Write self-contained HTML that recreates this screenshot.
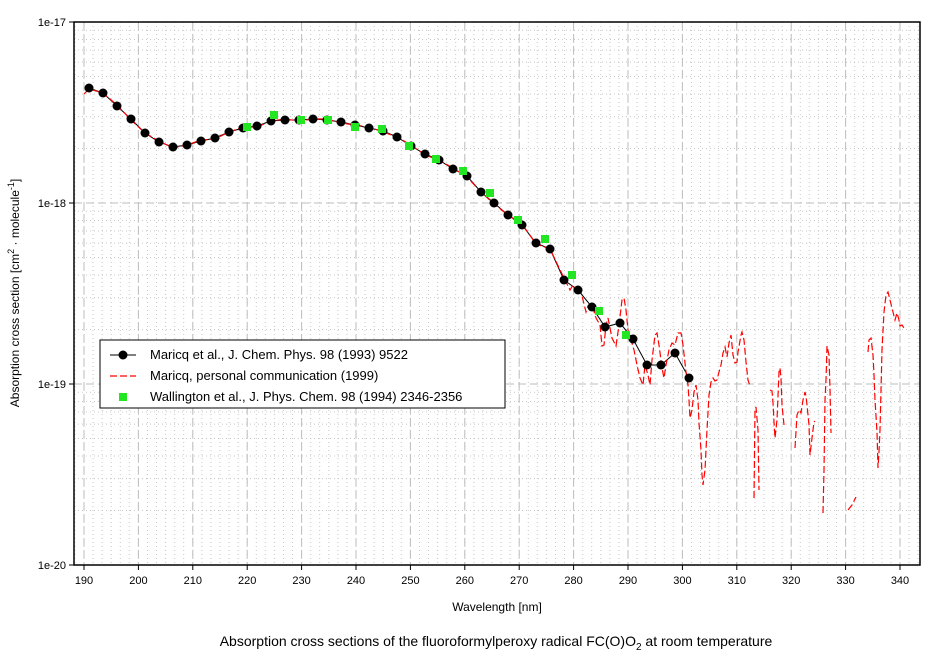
<!DOCTYPE html>
<html><head><meta charset="utf-8"><style>
body{margin:0;background:#fff;}
svg{display:block;font-family:"Liberation Sans",Arial,sans-serif;}
</style></head><body>
<svg id="s" width="944" height="660" xmlns="http://www.w3.org/2000/svg"></svg>
<script>
const S=document.getElementById('s');let h='';
const L=74,R=920,T=22,B=565;
const X=nm=>84+(nm-190)*5.44;
const Y=e=>22+(-17-e)*181;
for(let nm=188.333;nm<345;nm+=10/6){const x=X(nm);if(x<=L||x>=R)continue;h+=`<line x1="${x}" y1="${T}" x2="${x}" y2="${B}" stroke="#c8c8c8" stroke-dasharray="1,3"/>`;}
for(let d=-20;d<-17;d++)for(let m=2;m<10;m++){const y=Y(d+Math.log10(m));h+=`<line x1="${L}" y1="${y}" x2="${R}" y2="${y}" stroke="#c8c8c8" stroke-dasharray="1,3"/>`;}
for(let nm=190;nm<=340;nm+=10){const x=X(nm);h+=`<line x1="${x}" y1="${T}" x2="${x}" y2="${B}" stroke="#bdbdbd" stroke-dasharray="8,4"/><line x1="${x}" y1="${B}" x2="${x}" y2="${B+5}" stroke="#000"/><text x="${x}" y="${B+19}" font-size="11" text-anchor="middle">${nm}</text>`;}
for(let d=-20;d<=-17;d++){const y=Y(d);h+=`<line x1="${L}" y1="${y}" x2="${R}" y2="${y}" stroke="#bdbdbd" stroke-dasharray="8,4"/><line x1="${L-5}" y1="${y}" x2="${L}" y2="${y}" stroke="#000"/><text x="${L-8}" y="${y+4}" font-size="11" text-anchor="end">1e${d}</text>`;}
h+=`<rect x="${L}" y="${T}" width="${R-L}" height="${B-T}" fill="none" stroke="#000" stroke-width="1.5"/>`;
const blk=[[89,88],[103,93],[117,106],[131,119],[145,133],[159,142],[173,147],[187,145],[201,141],[215,138],[229,132],[243,128],[257,126],[271,121],[285,120],[299,120],[313,119],[327,120],[341,122],[355,125],[369,128],[383,131],[397,137],[411,146],[425,154],[439,160],[453,169],[467,176],[481,192],[494,203],[508,215],[522,225],[536,243],[550,249],[564,280],[578,290],[592,307],[605,327],[620,323],[633,339],[647,365],[661,365],[675,353],[689,378]];
const segs=[
[[84,94],...blk.slice(0,34).map(p=>[p[0],p[1]+(p[0]%3-1)]),[564,278],[570,290],[573,285],[577,292],[580,288],[583,300],[586,312],[588,306],[590,308],[592,305],[596,318],[600,325],[602,346],[604,345],[606,325],[608,318],[612,338],[616,346],[619,325],[622,300],[624,298],[626,310],[628,330],[631,340],[634,350],[637,365],[640,378],[643,385],[645,365],[648,375],[650,385],[652,360],[655,335],[657,333],[659,345],[662,368],[664,378],[666,365],[669,350],[672,343],[675,345],[678,333],[681,333],[683,345],[686,372],[688,385],[689,400],[690,418],[692,410],[694,392],[696,385],[698,400],[699,423],[701,450],[702,475],[703,485],[705,470],[707,430],[709,395],[711,382],[713,378],[715,381],[717,380],[719,372],[721,365],[723,353],[725,347],[727,357],[729,343],[731,335],[733,355],[735,363],[737,362],[738,352],[741,335],[742,332],[744,340],[746,362],[748,380],[750,386]],
[[754,498],[755,410],[756,407],[758,430],[759,490]],
[[770,390],[772,391],[773,403],[774,422],[775,438],[777,420],[779,372],[780,368],[781,378],[782,405],[784,425]],
[[795,448],[797,415],[799,410],[801,413],[803,400],[805,392],[806,396],[807,405],[809,425],[810,455],[812,438],[814,422],[815,421]],
[[823,513],[824,470],[825,400],[826,380],[827,346],[829,355],[830,390],[831,433]],
[[848,510],[852,505],[856,497]],
[[868,352],[869,340],[871,338],[873,355],[874,375],[875,400],[877,432],[878,468],[879,452],[880,430],[882,350],[884,312],[886,295],[888,292],[890,300],[892,308],[894,316],[895,320],[897,313],[899,320],[900,326],[902,325],[904,328]]];
h+=`<polyline points="${blk.map(p=>p.join(',')).join(' ')}" fill="none" stroke="#000" stroke-width="1"/>`;
segs.forEach(s=>h+=`<polyline points="${s.map(p=>p.join(',')).join(' ')}" fill="none" stroke="#f00" stroke-width="1.2" stroke-dasharray="7,3"/>`);
blk.forEach(p=>h+=`<circle cx="${p[0]}" cy="${p[1]}" r="4.5" fill="#000"/>`);
const grn=[[247,127],[274,115],[301,120],[328,120],[355,127],[382,129],[409,146],[436,159],[463,171],[490,193],[518,220],[545,239],[572,275],[599,311],[626,335]];
grn.forEach(p=>h+=`<rect x="${p[0]-4}" y="${p[1]-4}" width="8" height="8" fill="#22e622"/>`);
h+=`<rect x="100" y="340" width="405" height="68" fill="#fff" stroke="#000"/>
<line x1="110" y1="355" x2="136" y2="355" stroke="#000"/><circle cx="123" cy="355" r="4.5"/>
<line x1="110" y1="376" x2="136" y2="376" stroke="#f00" stroke-dasharray="7,3" stroke-width="1.2"/>
<rect x="119" y="393" width="8" height="8" fill="#22e622"/>
<text x="150" y="359" font-size="13">Maricq et al., J. Chem. Phys. 98 (1993) 9522</text>
<text x="150" y="380" font-size="13">Maricq, personal communication (1999)</text>
<text x="150" y="401" font-size="13">Wallington et al., J. Phys. Chem. 98 (1994) 2346-2356</text>`;
h+=`<text x="497" y="611" font-size="12" text-anchor="middle">Wavelength [nm]</text>`;
h+=`<text transform="translate(19,293) rotate(-90)" font-size="12" text-anchor="middle">Absorption cross section [cm<tspan font-size="9" dy="-5">2</tspan><tspan dy="5"> · molecule</tspan><tspan font-size="9" dy="-5">-1</tspan><tspan dy="5">]</tspan></text>`;
h+=`<text x="496" y="646" font-size="14" text-anchor="middle">Absorption cross sections of the fluoroformylperoxy radical FC(O)O<tspan font-size="10" dy="4">2</tspan><tspan dy="-4"> at room temperature</tspan></text>`;
S.innerHTML=h;
</script>
</body></html>
